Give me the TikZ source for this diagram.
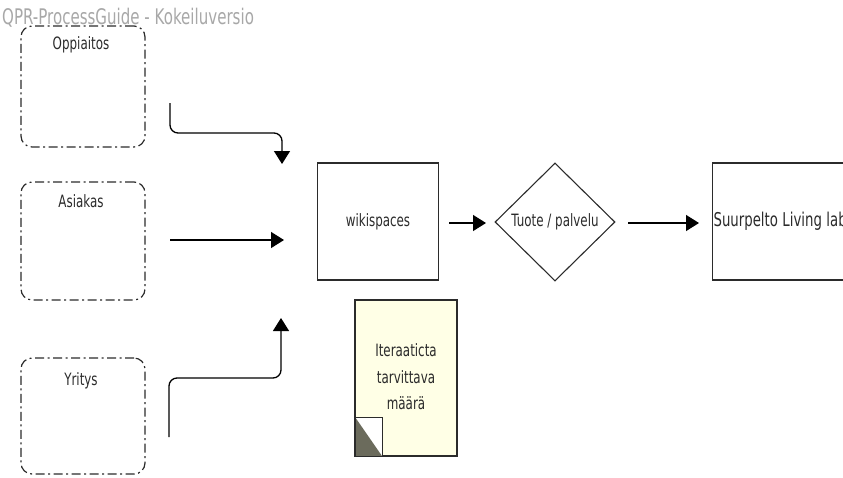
\documentclass[tikz,border=0pt]{standalone}
\usepackage{graphicx}
\usepackage{fontspec}
\setmainfont{DejaVu Sans}
\usetikzlibrary{arrows.meta,shapes.geometric}
\newcommand{\sqz}[1]{\scalebox{0.7}[1]{#1}}
\definecolor{linec}{HTML}{2B2B2B}
\definecolor{notefill}{HTML}{FFFFE6}
\definecolor{foldc}{HTML}{6B6B5C}
\definecolor{wmark}{HTML}{A8A8A8}
\tikzset{
  actorbox/.style={draw=linec, line width=1.2pt, rounded corners=11pt,
    dash pattern=on 9pt off 3.5pt on 2pt off 3.5pt,
    minimum width=124pt, inner sep=0pt},
  actorlabel/.style={font=\fontsize{17}{20}\selectfont, text=linec, inner sep=0pt},
  procbox/.style={draw=linec, line width=1.1pt, minimum width=121pt,
    minimum height=117pt, inner sep=0pt, font=\fontsize{17}{20}\selectfont, text=linec},
  decision/.style={draw=linec, line width=1.1pt, diamond, minimum width=120pt,
    minimum height=118pt, inner sep=0pt, font=\fontsize{17}{20}\selectfont, text=linec},
  flow/.style={draw=black, line width=1.3pt, rounded corners=8pt,
    -{Triangle[length=13pt,width=16pt]}},
}
\begin{document}
\begin{tikzpicture}[x=1pt,y=-1pt]
\useasboundingbox (0,0) rectangle (843,477);
\begin{scope}
\clip (0,0) rectangle (843,477);

% actor boxes
\node[actorbox, minimum height=121pt] (oppi) at (83,86.5) {};
\node[actorlabel] (oppiT) at (81,45) {\sqz{Oppiaitos}};
\node[actorbox, minimum height=118pt] (asia) at (83,241) {};
\node[actorlabel] (asiaT) at (81,201) {\sqz{Asiakas}};
\node[actorbox, minimum height=116pt] (yri) at (83,416) {};
\node[actorlabel] (yriT) at (81,381) {\sqz{Yritys}};

% process nodes
\node[procbox] (wiki) at (378,221.5) {\sqz{wikispaces}};
\node[decision] (tuote) at (555,222) {\sqz{Tuote / palvelu}};
\node[procbox, minimum width=140pt, anchor=west, text width=138pt, align=left,
  font=\fontsize{19}{22}\selectfont] (suur) at (712,221.5) {\hspace*{0pt}\sqz{Suurpelto Living lab}};

% note
\node[draw=linec, line width=1.1pt, fill=notefill, minimum width=102pt,
  minimum height=156pt, inner sep=0pt] (note) at (406,378) {};
\node[font=\fontsize{17}{26.5}\selectfont, align=center, text=linec] (noteT) at (406,377)
  {\sqz{Iteraaticta}\\\sqz{tarvittava}\\\sqz{määrä}};
\coordinate (fA) at (355,417);
\coordinate (fB) at (382,456);
\fill[white] (fA) rectangle (fB);
\fill[foldc] (fA) -- (fB) -- (fA |- fB) -- cycle;
\draw[linec, line width=1pt] (fA) rectangle (fB);

% connector endpoints
\coordinate (s1) at (170,103);
\coordinate (e1) at (282,164);
\coordinate (s2) at (170,240);
\coordinate (e2) at (284,240);
\coordinate (s3) at (169,437);
\coordinate (e3) at (281,318);
\coordinate (w1) at (449,223);
\coordinate (w2) at (486,223);
\coordinate (t1) at (628,223);
\coordinate (t2) at (699,223);

\draw[flow] (s1) -- (170,133) -- (282,133) -- (e1);
\draw[flow] (s2) -- (e2);
\draw[flow] (s3) -- (169,378) -- (281,378) -- (e3);
\draw[flow] (w1) -- (w2);
\draw[flow] (t1) -- (t2);

% watermark
\node[anchor=west, text=wmark, font=\fontsize{21.5}{24}\selectfont, inner sep=0pt] (wm) at (2,18) {\sqz{QPR-ProcessGuide - Kokeiluversio}};
\end{scope}
\end{tikzpicture}
\end{document}
